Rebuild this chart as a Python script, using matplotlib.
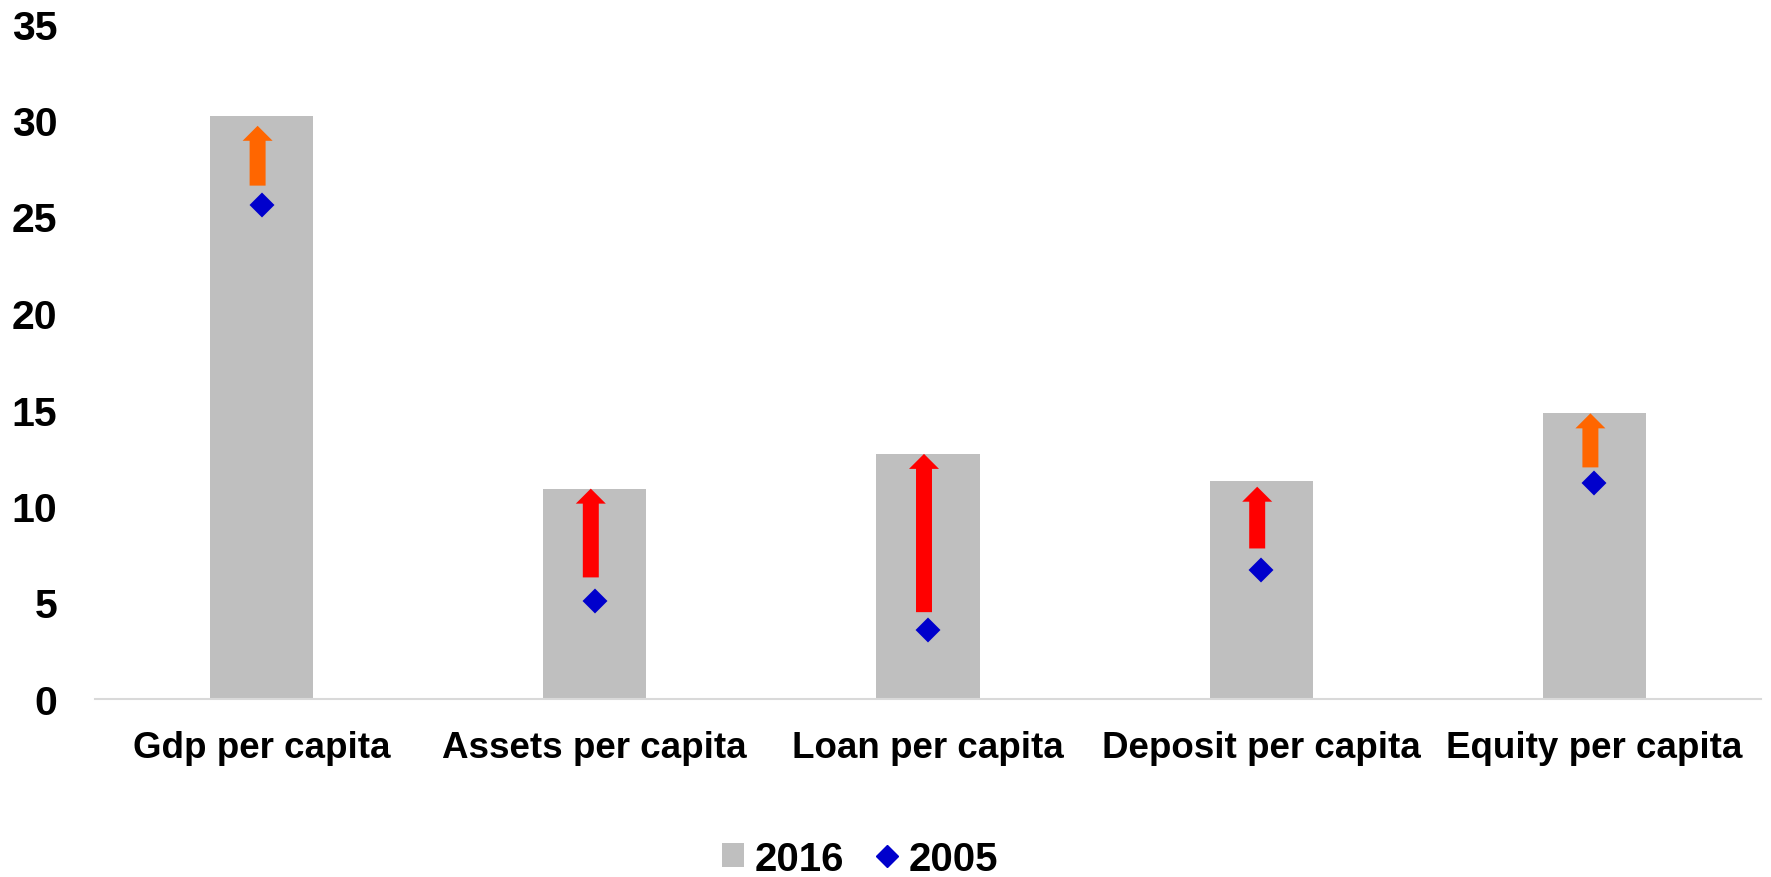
import matplotlib
matplotlib.use("Agg")
import matplotlib.pyplot as plt
from matplotlib.lines import Line2D
from matplotlib.patches import Patch

categories = ["Gdp per capita", "Assets per capita", "Loan per capita",
              "Deposit per capita", "Equity per capita"]
values_2016 = [30.2, 10.9, 12.7, 11.3, 14.8]
values_2005 = [25.6, 5.1, 3.6, 6.7, 11.2]
arrow_base = [26.6, 6.3, 4.5, 7.8, 12.0]
arrow_tip = [29.7, 10.9, 12.7, 11.0, 14.8]
arrow_colors = ["#FF6600", "#FF0000", "#FF0000", "#FF0000", "#FF6600"]
yticks = [0, 5, 10, 15, 20, 25, 30, 35]

plt.rcParams['font.family'] = ['Liberation Sans', 'DejaVu Sans']
plt.rcParams['font.weight'] = 'bold'

fig = plt.figure(figsize=(17.71, 8.78), dpi=100)
ax = fig.add_axes([95/1771, 178/878, (1761-95)/1771, (700-24.5)/878])

x = list(range(len(categories)))
ax.bar(x, values_2016, width=0.31, color="#BFBFBF", zorder=1)
ax.plot(x, values_2005, linestyle='none', marker='D', markersize=11.5,
        color="#0000CC", markeredgewidth=1.5, markeredgecolor="#0000CC",
        zorder=3)
for xi, b, t, c in zip(x, arrow_base, arrow_tip, arrow_colors):
    ax.annotate('', xy=(xi - 0.012, t), xytext=(xi - 0.012, b),
                arrowprops=dict(arrowstyle='simple,head_length=10.8,head_width=21.6,tail_width=11.5',
                                mutation_scale=1, color=c, shrinkA=0, shrinkB=0, lw=0),
                zorder=2)

ax.set_xlim(-0.5, 4.5)
ax.set_ylim(0, 35)
ax.set_yticks(yticks)
ax.set_xticks(x)
ax.set_xticklabels(categories, fontsize=26.5, fontweight='bold')
ax.tick_params(axis='y', length=0, pad=27, labelsize=29.5)
ax.tick_params(axis='x', length=0, pad=22)
for lab in ax.get_yticklabels():
    lab.set_fontweight('bold')
for s in ['top', 'right', 'left']:
    ax.spines[s].set_visible(False)
ax.spines['bottom'].set_color('#D9D9D9')
ax.spines['bottom'].set_linewidth(1.5)

handles = [Patch(facecolor="#BFBFBF", edgecolor='none', label='2016'),
           Line2D([], [], linestyle='none', marker='D', markersize=11,
                  color="#0000CC", label='2005')]
fig.legend(handles=handles, loc='center', bbox_to_anchor=(0.4856, 0.021), ncol=2,
           frameon=False, prop={'size': 29, 'weight': 'bold'},
           handlelength=0.55, handleheight=0.55, handletextpad=0.25, columnspacing=0.8,
           borderpad=0)

fig.savefig("out.png", dpi=100)
